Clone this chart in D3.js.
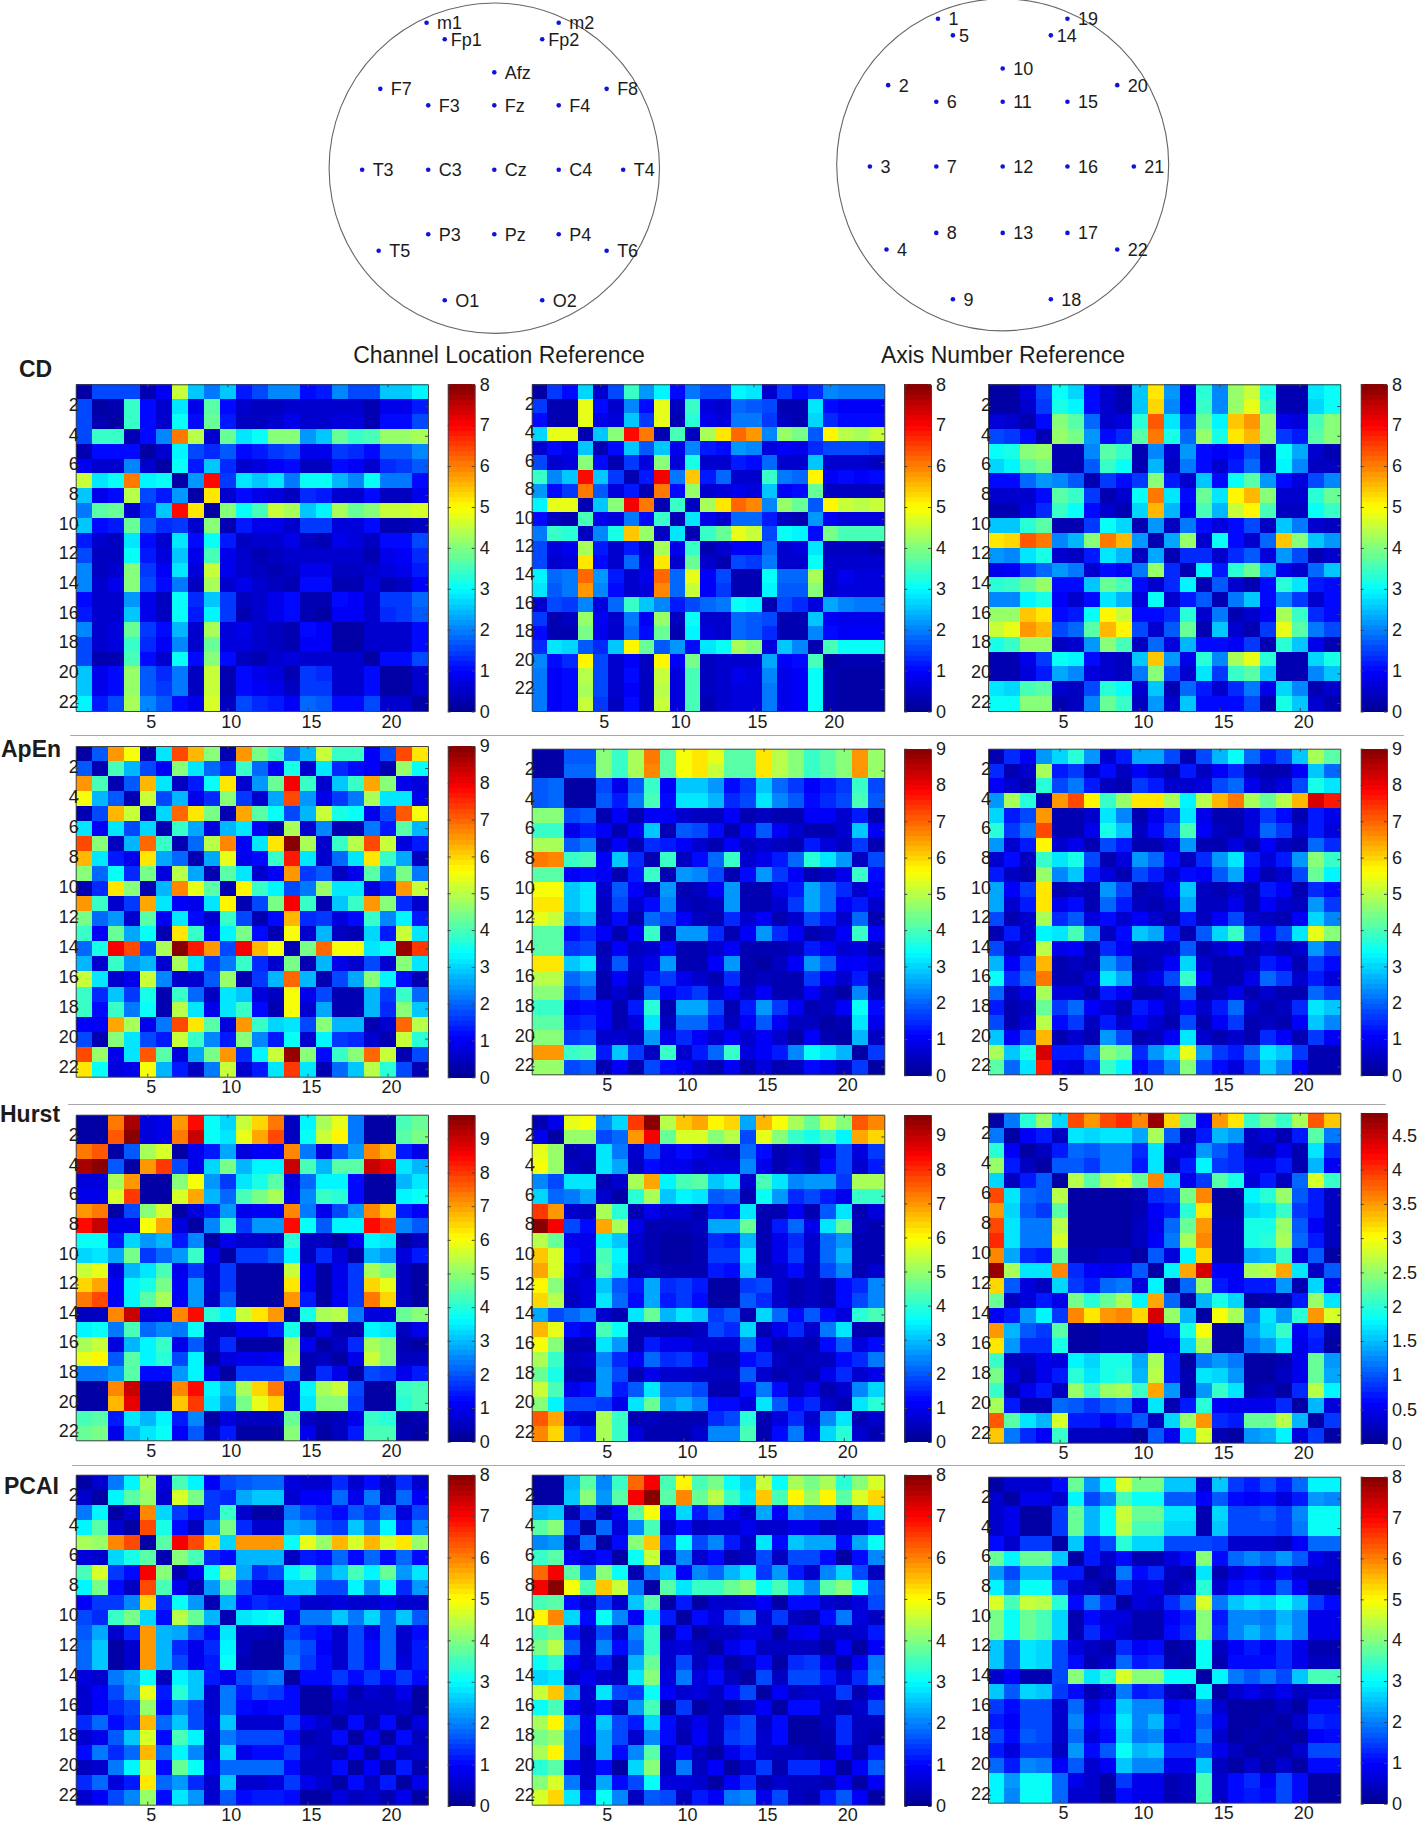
<!DOCTYPE html>
<html><head><meta charset="utf-8">
<script src="https://cdn.jsdelivr.net/npm/d3@7"></script>
<style>html,body{margin:0;padding:0;background:#fff}svg{display:block}text{font-family:"Liberation Sans",Arial,sans-serif;fill:#1c1c1c}</style>
</head><body><div id="chart"></div>
<script>
// Upper triangles of the symmetric matrices: row i lists columns i..n
const cd1=[[.2,1.5,1.5,1.5,.3,.9,4.5,2.5,1.9,2.5,1.2,1.5,2,2,1,1.2,2,1.6,1.5,2.5,2.5,2.9],
[.2,.3,3.4,1.1,.6,2.8,.8,3.7,1,.5,.4,.4,.6,.6,.6,.6,.6,.3,.8,.8,1.2],
[.2,3.4,1,.6,3,1,3.8,1.2,.4,.4,.5,.8,.5,.5,.7,.7,.3,1,1,1.6],
[.3,1,2,6.1,4.4,.5,3.8,2.8,3,4,4,2.2,2.6,3.8,3.4,3.6,4.2,4.2,4.3],
[.2,.5,2.9,1.6,1.3,1.7,1,1.2,1.4,1.6,.8,.8,1.4,1.3,1,1.7,1.7,2],
[.2,3,1.2,2.6,1.3,.5,.7,.9,1,.4,.4,1,.9,.6,1.3,1.4,1.7],
[.2,2.2,6.9,1.4,2.8,2.6,2.8,1.9,3,3,2.4,2.1,3,1.9,1.9,1],
[.2,5.2,.5,1,.8,.7,.4,1.3,1.2,.5,.5,1,.4,.4,.8],
[.2,4.1,3,3.5,4.5,4.3,2.6,2.9,4.3,3.8,4.1,4.6,4.6,4.7],
[.3,1.2,.8,.8,.5,1.4,1.4,.7,.7,1.1,.3,.3,.4],
[.4,.5,.5,.8,.4,.3,.8,.7,.4,1,1,1.6],
[.3,.4,.6,.6,.6,.6,.6,.3,.8,.9,1.3],
[.3,.4,.8,.8,.4,.4,.5,.7,.8,1.2],
[.3,1.1,1,.3,.3,.7,.3,.4,.9],
[.3,.3,1,.9,.6,1.4,1.4,1.8],
[.2,.9,.9,.5,1.3,1.4,1.7],
[.2,.2,.6,.6,.6,1],
[.2,.6,.6,.6,1],
[.2,1,1,1.5],
[.2,.2,.6],
[.2,.6],
[.2]];
const cd2=[[.2,1.4,1.1,2.7,.5,1.5,3.4,2.2,2.9,1,1.9,1.6,1.5,2.9,2.8,.6,1.4,1,1.3,2,1.9,1.9,1.9],
[.3,.3,4.8,1,.5,2.1,1,4.8,.4,3.4,.7,.6,1.8,1.7,1.6,.3,.3,2.8,1.1,.9,.9,.9],
[.3,4.8,.8,.7,2.5,1.4,4.8,.3,3.3,.8,.7,1.9,1.9,1.4,.4,.3,2.7,1.3,1,1,1],
[.3,2.5,4,6.9,6,.3,3.5,.4,4.3,5.2,6.2,5.8,2,4.2,3.9,1.7,5,4.4,4.3,4.6],
[.3,1,2.6,1.7,2.5,.8,2,1.2,1,2.2,2.1,.7,.9,.8,1.3,1.6,1.6,1.5,1.4],
[.3,1.4,.7,4,.7,3.2,.5,.5,1.2,1,1.8,.6,.6,2.6,.6,.5,.5,.4],
[.3,1.2,7,1.9,5.4,1.2,1.8,.5,.5,3.4,1.9,1.8,5,.9,1,.9,1],
[.3,6,1,4.2,.5,.7,.8,.7,2.6,.9,1.1,3.8,.4,.4,.4,.4],
[.3,3.4,.4,4.3,5.2,6.2,5.9,2,4.2,3.8,1.7,5,4.5,4.4,4.6],
[.3,2.8,.8,.6,1.8,1.8,1.2,.4,.3,2.2,.9,.7,.7,.7],
[.3,3.4,3.8,4.8,4.5,1.5,3.1,2.9,1,3.9,3.6,3.6,3.6],
[.3,.5,.9,.9,1.8,.6,.7,2.8,.4,.4,.4,.3],
[.3,1.5,1.4,1.9,.6,.6,3,.6,.5,.5,.5],
[.3,.3,3,1.8,1.8,4.3,.6,.8,.7,.7],
[.3,2.9,1.7,1.7,4,.6,.7,.7,.7],
[.3,1.6,1.3,.7,2.3,2,1.9,1.9],
[.3,.3,2.5,.9,.8,.8,.8],
[.3,2.1,1.1,.9,.9,.9],
[.3,3.5,3,3,3],
[.2,.3,.3,.3],
[.2,.2,.2],
[.2,.2],
[.2]];
const cd3=[[.2,.2,.7,1.5,3,2.7,1,.5,.3,2.5,5.2,2.2,.8,3.3,2,4.2,4.6,3.2,.3,.3,2.8,3],
[.2,.6,1.4,3.2,2.9,1,.6,.3,2.6,5.3,2.1,.9,3.4,2.1,4.2,4.8,3.4,.3,.3,2.7,3.1],
[.3,1,4.1,3.7,1.8,.5,.7,3.3,6.3,2.8,1.4,3.8,2.9,5.4,5.8,4.2,.8,.7,3.6,4.1],
[.3,4.2,3.9,2.2,1,1.3,3.7,6,3.2,1.8,4.2,3.2,5.2,5.5,4.2,1.4,1.2,3.7,4.1],
[.3,.3,2,3.7,3.4,.3,2.1,.5,2.2,1.1,.9,1,1.6,.4,3.1,2.3,.6,.3],
[.3,1.7,3.4,3,.3,2.4,.4,1.9,1.1,.5,1.2,1.8,.5,2.9,2,.4,.4],
[.3,1.4,1.1,1.4,4,1.2,.5,2.5,1,3,3.7,2.2,1,.7,1.6,2],
[.3,.6,3,6,2.8,1.1,3.8,2.8,5,5.5,4,.6,.6,3.3,3.8],
[.3,2.7,5.5,2.4,.9,3.5,2.4,4.6,5,3.6,.4,.4,3,3.4],
[.3,2.2,.4,1.9,1.1,.7,1,1.5,.4,2.6,1.9,.5,.4],
[.3,2.3,4.2,.5,3,1,.5,1.8,5.4,4,2.6,2.2],
[.3,1.3,1.3,.5,1.3,1.7,.7,2.2,1.5,.3,.5],
[.3,2.9,1.2,3.3,3.8,2.4,.8,.5,1.8,2.5],
[.3,1.7,.5,.3,1,3.3,2.8,1.2,1],
[.3,1.9,2.5,1,2.1,1.4,.6,1],
[.3,.5,.9,4.3,3.4,1.3,1],
[.3,1.4,4.8,3.7,1.9,1.5],
[.3,3.3,2.5,.8,.3],
[.3,.3,2.7,3.2],
[.3,2,2.5],
[.3,.6],
[.3]];
const apen1=[[.2,1.9,6.5,5.5,.3,3.2,7.3,6.2,4.6,.3,6.6,4.4,3.8,2,2.7,5.2,3.8,3.8,1,1.7,7.2,5.8],
[.3,4,2.8,1.8,1.1,4.6,3.2,2,1.5,3.8,2,1.1,3.6,.6,3.2,1.5,1.2,1,.4,4.7,3.4],
[.3,1.9,6.3,3.2,.5,1.3,3.4,5.8,.7,2.4,4.3,7.9,3.9,.6,2.9,3.9,6.4,4.6,.9,.8],
[.3,5.2,1.8,2.8,.9,1.5,4.6,1.6,.7,2.6,7.3,2.5,.9,1.6,2.2,4.9,3.1,3.1,.9],
[.3,3,7,5.9,4.4,.4,6.4,4.2,3.4,1.7,2.7,5.1,3.6,3.4,.9,1.7,7.1,5.5],
[.3,3.9,2.6,.8,2.7,3.1,1,.3,4.8,.6,2.3,.4,.3,2.2,1.3,4.2,2.7],
[.3,2,5,6.7,1,3.2,5.8,8.9,4.8,.7,3.9,5,7.2,5.1,.8,1.3],
[.3,2.6,5.4,.9,1.2,3.8,7.6,3.2,.6,2.1,3.2,5.8,3.9,2.6,.5],
[.3,4.2,3.2,.6,1.1,6.5,1.6,1.9,.5,.9,4.1,2.3,4.4,2.2],
[.3,5.7,3.9,3.3,1.8,2.2,4.7,3.2,3.2,.8,1.3,6.5,5.1],
[.3,1.7,4.4,7.9,3.9,.4,2.9,3.9,6.5,4.6,1.5,.6],
[.3,1.2,6.2,1.5,1.6,.8,1.2,3.8,2.3,3.3,1.4],
[.3,5.6,.6,2.7,.5,.3,3,1.3,5.2,3.2],
[.3,4.4,7,5.6,5.6,3.1,3.4,8.8,7.4],
[.3,2.8,.9,.7,1.8,.7,4.6,3.1],
[.3,1.8,2.6,4.6,3.3,1.2,.4],
[.3,.3,2.8,1.6,3.9,2.1],
[.3,2.8,1.5,4.6,2.9],
[.3,.7,7,5],
[.3,5.1,3.7],
[.3,1.7],
[.3]];
const apen2=[[.2,.2,1.9,1.9,4.6,3.8,4.9,6.8,4.1,5.5,5.8,5.4,4.2,4.1,5.8,5,4.6,3.9,4.2,4.6,6.5,4.7],
[.2,2,2,4.6,3.8,4.9,6.7,4.1,5.5,5.8,5.2,4.2,4.1,5.8,5,4.6,3.9,4.2,4.6,6.5,4.7],
[.2,.2,1.7,.9,1.9,3.8,1,2.9,2.9,2.5,1.2,1.6,2.9,2,1.6,1,1.3,1.6,3.8,1.7],
[.2,1.9,1.3,2.2,4,1.2,3.1,3.1,2.8,1.5,1.8,3.2,2.3,1.9,1.2,1.5,1.8,4,1.9],
[.3,1,.4,1.1,1.1,.6,.5,.5,1,.4,.5,.3,.4,1,1,.6,1.3,.4],
[.3,1,2.9,.3,1.9,1.7,1.2,.4,1.1,1.9,1.1,.6,.4,.4,.6,2.9,1],
[.3,1.5,1.3,1,.6,.3,1.1,.5,.7,.5,.4,1.3,.8,.5,1.6,.3],
[.3,3.8,.5,1.2,2,3.8,.6,.9,1.4,2,3.7,3.2,2.5,.5,1.7],
[.3,2.5,2.3,1.7,.3,1.2,2.4,1.6,1,.3,.5,.9,3.8,1.2],
[.3,.5,1,2.5,.4,.4,.9,1.4,2.6,2.1,1.5,.6,1],
[.3,.5,2.5,.4,.3,.7,1.6,2.6,2,1.1,1.3,.6],
[.3,1.5,.6,1,.4,.6,1.7,1.3,.7,2,.3],
[.3,1.1,2.4,1.5,1,.3,.5,1,3.8,1.1],
[.3,.3,.3,.5,1.3,1,.7,.8,.4],
[.2,.5,1,2.5,1.9,1.1,1,.8],
[.3,.4,1.6,1.1,.6,1.4,.3],
[.3,1,.5,.2,2.3,.5],
[.3,.5,1,3.4,1.2],
[.2,.4,3.2,.9],
[.2,2.7,.5],
[.2,1.6],
[.2]];
const apen3=[[.3,1.5,1,2.4,3,3.7,2.5,.7,1.3,2.6,2.6,1.7,.4,1.8,2.8,3.4,2,1.3,1.8,2.9,4.9,4.2],
[.3,.6,4.8,1.3,1.6,.7,1.2,.5,1.1,.6,.3,1.3,.5,1,1.5,.5,.4,.4,1,2.9,2.1],
[.3,3.7,1.8,2.2,1.3,.5,.4,1.6,1.3,.7,.7,.8,1.8,2.1,.9,.5,.8,1.8,3.6,3.1],
[.3,6.6,7.3,5.7,3.8,4.7,5.9,5.9,4.8,3.3,5,6.2,6.8,4.9,4.3,5,6.3,8.2,7.6],
[.3,.3,.6,3.1,2.3,.4,.9,1.5,3.2,.9,.4,.3,.8,1.6,1.2,.4,1.3,.9],
[.3,.9,3.6,2.9,.5,1.2,1.9,4,1.1,.5,.3,.8,2,1.6,.6,1.4,.8],
[.3,1.8,1.3,.4,.4,.8,2.5,.4,.4,.8,.4,1,.5,.4,2,1.5],
[.3,.8,2.4,2.1,1.2,.5,1.5,2.4,3.1,1.4,.8,1.3,2.4,4.6,3.8],
[.3,1.8,1.4,.6,1.2,1,1.9,2.6,1.1,.4,.7,1.8,4.3,3.3],
[.3,.5,1,2.9,.5,.3,.6,.4,1.3,1,.3,1.5,1.2],
[.3,.6,2.6,.5,.5,.9,.4,1,.6,.5,2.5,1.6],
[.3,1.4,.5,1,1.7,.6,.5,.4,1,3,2.3],
[.3,1.9,3,3.8,1.9,1.2,1.7,3.1,5.4,4.6],
[.3,.7,1,.4,.6,.4,.7,2.5,1.7],
[.3,.4,.5,1.4,1,.3,1.6,1.2],
[.3,.9,2,1.6,.6,1.3,.8],
[.3,.7,.4,.4,2,1.6],
[.3,.5,1.5,3.2,2.9],
[.3,1,2.9,2.3],
[.3,1.6,1.1],
[.3,.4],
[.3]];
const hurst1=[[.2,.2,7.4,9.4,.9,1,7,8.5,3.7,3.3,5.5,6.5,7.3,.5,3.5,5.3,5.9,2.3,.3,.3,4.4,4.6],
[.2,7.7,9.6,.8,1,7.3,9,3.7,3.4,5.8,6.9,7.8,.6,3.7,5.5,6.2,2.4,.3,.3,4.5,4.8],
[.3,2,5.2,5.7,.3,1,1.5,2.8,.8,1.1,1.1,7.2,2.3,.9,2,2.7,7.2,6.7,1.4,1],
[.3,7,7.9,1.9,1,3.2,4.8,2.9,3.6,3.6,9,4.4,3,4.5,4.5,9.1,8.7,3.4,3],
[.2,.2,5,6,2.6,1.8,3.4,3.9,4.5,.9,2.2,3.5,3.6,1.3,.3,.3,2.9,3.4],
[.2,5.7,6.9,2.9,2.2,4.3,4.8,5.2,1,2.5,4.2,4,1.3,.3,.3,3.5,3.7],
[.2,.9,1.4,2.7,1,1.1,1.1,7.2,2.4,1,1.9,2.6,7.2,6.6,1.4,1.1],
[.3,2.5,4.2,1.7,2.7,2.7,8.4,3.7,2,3.6,3.6,8.5,8,2.5,2],
[.3,1,.7,.7,.6,4,.5,.5,.2,1,3.6,3.4,.3,.6],
[.3,1.8,1.8,2,3.5,.5,1.6,.9,.3,3,2.7,.9,1.5],
[.2,.2,.2,5.5,1.1,.3,1,1.8,5.2,4.8,.5,.3],
[.2,.2,6.3,1.1,.3,1,1.8,6.4,5.9,.5,.3],
[.2,7.1,1.4,.3,1.1,1.8,7.4,6.5,.5,.3],
[.3,3.9,5.3,5.4,2.3,.9,.9,4.7,5],
[.2,1,.4,.4,3.6,3.4,.5,1],
[.3,.6,1.6,5.2,5,.4,.2],
[.2,1,5.6,5,.6,.5],
[.3,1.9,1.8,1,1.5],
[.2,.2,4.2,4.4],
[.2,4.1,4.3],
[.3,.4],
[.3]];
const hurst2=[[.3,.9,5.7,5.9,2.5,3.2,7.8,9.5,5.3,6.5,6.8,6,6.4,2.7,6.7,5.9,5.1,4.6,5.4,4.9,7.5,7.1],
[.2,5,5,1.8,2.2,7,8.4,4.6,5.6,5.6,4.8,5.3,1.9,5.7,4.8,4.1,3.8,4.3,3.5,6.8,6.4],
[.3,.5,3.4,2.3,.7,1.8,1,1.2,.9,.7,.5,2.1,1.2,.3,.5,.3,1,1.8,.8,1.7],
[.3,3.4,2.7,.5,1.3,.9,1,.7,.8,.8,2.5,1,.3,.6,.3,1.3,1.9,.6,1.4],
[.3,.6,5.2,6.8,3.5,4.3,4.4,3.1,3.3,.6,4.3,3.4,2.5,2.6,2.6,1.7,5.2,5.1],
[.2,4,5.2,3,3.5,3.3,2,2.2,.3,3.6,2.6,1.6,1.8,1.4,.9,4.1,4.1],
[.3,.9,.6,.6,.3,1.4,1.3,3.3,.4,.4,1.1,.4,2,3.4,.4,.8],
[.3,.3,.3,.5,2.7,2.7,4.6,.3,1.4,2.2,1,3.4,4.5,.5,.4],
[.2,.2,.4,1.6,1.4,2.9,.3,.9,1.5,.6,2.1,2.6,.3,.3],
[.2,.4,1.7,1.7,3.3,.3,.9,1.7,.6,2.2,2.9,.3,.3],
[.3,1.4,1.2,3,.5,.7,1.2,.5,1.8,2.5,.3,.7],
[.2,.2,1.7,1.8,.6,.3,.5,.4,1.3,1.6,2.4],
[.2,2,1.6,.6,.3,.5,.4,1.2,1.8,2.5],
[.3,3.2,2.2,1.2,2,1.3,.8,4,4.2],
[.3,1,1.6,.7,2.3,3.4,.3,.3],
[.3,.5,.3,1.2,2,.8,1.3],
[.3,.5,.5,1.2,1.6,2.3],
[.3,.9,1.5,.6,1],
[.3,.7,2.5,3.2],
[.3,3.4,4],
[.3,.7],
[.3]];
const hurst3=[[.1,1.2,2,2.5,1.6,3.9,3.5,3.9,4,3.6,4.7,3.2,2.3,.6,3.5,3.1,2.1,2.4,2.1,2.6,3.8,3.3],
[.1,.6,.7,.3,1.7,1.6,1.7,1.7,1.4,2.6,1,.3,.7,1.5,1.3,.3,.4,.2,.7,2.2,1.2],
[.1,.3,.7,1.1,1,1.2,1.2,.8,1.7,.4,.4,1.3,1,.8,.3,.2,.5,.2,1.7,.8],
[.1,1,1,.9,1.2,1.2,.7,1.7,.3,.7,1.8,.9,.8,.5,.5,.7,.2,1.5,.6],
[.1,2.7,2.2,2.7,2.8,2.3,3.6,1.6,.5,.9,2.2,1.9,.4,.7,.3,1.1,2.8,2.1],
[.1,.1,.1,.1,.2,.8,.9,2.4,3.6,.1,.1,1.8,2,2.5,1,.7,.3],
[.1,.1,.1,.2,.6,.7,2,3.1,.1,.1,1.6,1.7,2.1,.9,.7,.3],
[.1,.1,.3,.5,1.1,2.3,3.5,.2,.2,1.9,1.9,2.5,1,.6,.3],
[.1,.3,.6,1.2,2.6,3.6,.2,.2,1.9,2,2.6,1.1,.7,.3],
[.1,1,.4,1.8,3.2,.2,.2,1.4,1.5,2.1,.4,1,.1],
[.1,1.8,3.4,4.4,.6,.6,2.6,2.7,3.4,1.7,.3,1],
[.1,1.1,2.5,.7,.6,.7,.7,1.3,.2,1.6,.5],
[.1,1.5,1.9,1.6,.1,.2,.2,.7,2.5,1.7],
[.1,3,2.6,1.2,1.7,1.3,2,3.5,2.8],
[.1,.1,1.3,1.6,2.1,.6,.8,.2],
[.1,1.2,1.3,1.7,.5,.7,.1],
[.1,.1,.2,.5,2.3,1.3],
[.1,.3,.5,2.3,1.4],
[.1,.8,2.7,1.8],
[.1,1.5,.4],
[.1,.9],
[.1]];
const pcai1=[[.2,.5,1.9,2.9,4.3,.7,3.5,2.9,.9,1.5,1.7,1.8,1.8,.7,.6,.6,1.3,.5,1.1,.4,1.3,.6],
[.2,2.9,3.7,4.2,.5,4.7,3.9,1.4,1.3,2.3,2.6,2.5,.5,.9,.9,1.8,.8,1.9,.6,1.8,.9],
[.2,.5,5.9,2.7,1.4,1,1.4,3.4,.5,.2,.2,1.9,1.6,1.3,1,1.7,1.3,1.9,.7,1.5],
[.2,6.4,3.2,1,.4,2,3.9,1.3,.5,.6,2.3,2.2,1.6,1.4,2.6,1.8,2.9,1.2,2],
[.2,3.7,7,6.4,5.3,2.7,5.8,5.8,5.8,3,4.8,4.2,5.5,4.7,5.6,4.7,5.2,4.2],
[.3,4,3.5,1.3,1,2.4,2.4,2.4,.4,1.2,1,1.8,1,1.8,1,1.8,1],
[.3,.8,3.1,4.4,2.3,1.3,1.5,2.9,3.3,2.1,2.5,3.6,2.9,3.8,2.2,2.8],
[.3,2.2,3.8,1.5,.8,.8,2.6,2.6,1.6,1.6,2.9,2.1,3,1.3,2.2],
[.3,2.4,1,1.3,1.2,1.2,.6,.5,.7,.6,.5,.8,.6,.5],
[.3,2.8,2.9,3,.8,1.9,1.9,2.6,1.9,2.7,1.8,2.6,1.7],
[.4,.4,.3,1.6,1.2,1,.5,1.5,.8,1.8,.5,1],
[.2,.2,1.8,1.5,.9,.6,1.6,1,1.8,.6,1.2],
[.2,1.9,1.4,1,.6,1.6,1,1.8,.7,1.2],
[.2,1,1,1.4,1,1.4,1,1.4,1],
[.2,.2,.8,.3,.6,.4,.8,.2],
[.2,.5,.4,.4,.4,.5,.2],
[.2,1,.3,1.1,.2,.7],
[.2,.9,.2,1,.4],
[.2,.9,.4,.5],
[.2,1.2,.3],
[.2,.8],
[.2]];
const pcai2=[[.2,.2,2.4,3.7,2.1,3.4,6.2,7,3.5,5.1,3.5,3.9,3,2.7,4.6,3.1,4.3,3.9,4.3,3.3,4,4.7],
[.2,2.6,4.1,2.2,3.7,7,7.9,3.7,5.9,3.8,4.4,3.4,2.8,5.4,3.5,5,4.2,5,3.7,4.7,5.3],
[.3,1.4,.3,.9,3.7,4.9,1,2.7,1.2,1.8,.9,.6,2.3,.9,2.2,1.9,1.9,.8,1.9,2.8],
[.2,1.8,.7,2,3.5,.5,1.1,.4,.5,.6,.8,.6,.5,.8,.8,.4,.6,.5,1.2],
[.2,1.1,4,5.4,1.4,3,1.6,2,1.2,.5,2.8,1.1,2.6,2.3,2.3,1.1,2.3,3],
[.2,3,4.5,.5,2,.6,1,.3,.4,1.5,.4,1.5,1.5,1,.2,1,2],
[.3,1.9,2.6,.9,2,1.8,2.4,2.8,1.4,2.2,1.2,.6,2.1,2.7,1.6,.4],
[.2,3.7,2.8,3.4,3.4,3.8,4,3.1,3.6,2.7,2,3.7,4,3.1,1.7],
[.2,1.2,.2,.5,.5,.7,.9,.2,1,1,.6,.4,.7,1.6],
[.2,1,.7,1.6,1.9,.6,1.4,.4,.3,1,1.9,.7,.4],
[.2,.4,.4,.7,.7,.2,.8,.9,.4,.4,.5,1.2],
[.2,.8,1.1,.4,.4,.4,.4,.2,.9,.2,.9],
[.2,.4,1.1,.2,1.3,1.4,.8,.2,.9,1.9],
[.2,1.5,.4,1.6,1.6,1.2,.5,1.3,2.1],
[.2,.9,.4,.5,.5,1.4,.3,.8],
[.2,1,1,.4,.3,.5,1.5],
[.2,.2,.4,1.3,.4,.4],
[.2,.3,1.3,.4,.3],
[.2,.9,.3,1.2],
[.2,.9,1.7],
[.2,.9],
[.2]];
const pcai3=[[.2,.5,.5,.5,1,3.8,2.2,2.9,4.7,3.9,3.9,2.6,2.6,.5,2.6,1.4,1.2,1.5,1.2,1.8,2.9,2.9],
[.2,.8,.8,.5,2.9,1.5,2.1,3.6,3,3,1.7,1.7,.9,1.7,1,.9,1,.7,1.2,2.2,2.1],
[.2,.2,1.4,3.8,2.4,3,4.5,3.8,3.8,2.8,2.8,.3,2.7,1.6,1.5,1.7,1.4,2,3,3],
[.2,1.4,3.8,2.4,3,4.4,3.6,3.6,2.7,2.7,.3,2.6,1.6,1.5,1.6,1.4,1.9,3,3],
[.2,2.6,1.2,1.6,3.3,2.7,2.7,1.5,1.5,1.6,1.4,.6,.5,.6,.4,.9,1.8,1.8],
[.2,1.2,.6,1,.3,.3,.7,1,4,1.1,1.8,2,1.8,2.2,1.7,.8,.5],
[.2,.4,1.9,1.1,1.3,.4,.3,2.8,.3,.7,.9,.7,1,.5,.5,.5],
[.2,1.3,.7,.8,.3,.5,3.3,.5,1.1,1.2,1,1.7,.9,.2,.2],
[.2,.7,.5,1.3,1.8,4.7,1.9,2.6,2.8,2.7,3,2.6,1.4,1.1],
[.3,.3,.9,1.2,4,1.2,2.1,2.1,1.9,2.4,2.1,.8,.8],
[.3,1,1.3,4,1.3,2.1,2.4,2,2.5,2,.8,.8],
[.2,.3,3,.4,.9,1.2,.9,1.3,.8,.3,.3],
[.2,3,.3,1,1.1,1,1.3,.8,.4,.4],
[.2,2.9,1.9,1.7,1.9,1.5,2.5,3.6,3.6],
[.2,.5,.8,.5,.8,.4,.5,.5],
[.2,.2,.2,.4,.2,1,1],
[.2,.3,.2,.5,1.3,1.2],
[.2,.3,.2,.9,1],
[.2,.5,1.5,1.5],
[.2,1,1],
[.2,.2],
[.2]];

// Colorbar limits and tick labels
const limits8=8, limits9=9, limitsH1=9.72, limitsH2=9.6, limitsH3=4.83;
const ticks8=d3.range(0,9), ticks9=d3.range(0,10), ticksH3=d3.range(0,5,.5);
const xTicks=[5,10,15,20], yTicks=d3.range(2,23,2);

// Electrodes: name, x, y in head radii
const channels=[["m1",-.41,.89],["m2",.39,.89],["Fp1",-.30,.79],["Fp2",.29,.79],["Afz",0,.59],["F7",-.69,.49],["F8",.68,.49],["F3",-.40,.39],["Fz",0,.39],["F4",.39,.39],["T3",-.80,0],["C3",-.40,0],["Cz",0,0],["C4",.39,0],["T4",.78,0],["P3",-.40,-.39],["Pz",0,-.39],["P4",.39,-.39],["T5",-.70,-.49],["T6",.68,-.49],["O1",-.30,-.79],["O2",.29,-.79]];
const axisNumbers=[["1",-.39,.89],["5",-.30,.79],["2",-.69,.49],["6",-.40,.39],["3",-.80,0],["7",-.40,0],["4",-.70,-.50],["8",-.40,-.40],["9",-.30,-.80],["10",0,.59],["11",0,.39],["12",0,0],["13",0,-.40],["14",.29,.79],["19",.39,.89],["15",.39,.39],["16",.39,0],["17",.39,-.40],["18",.29,-.80],["20",.69,.49],["21",.79,0],["22",.69,-.50]];

const jetT=[0,.125,.375,.625,.875,1], jetC=["rgb(0,0,143)","rgb(0,0,255)","rgb(0,255,255)","rgb(255,255,0)","rgb(255,0,0)","rgb(128,0,0)"];
const jet=d3.scaleLinear().domain(jetT).range(jetC).interpolate(d3.interpolateRgb);
const level=t=>jet((Math.min(63,Math.floor(t*64))+.5)/64);

const svg=d3.select("#chart").append("svg").attr("width",1418).attr("height",1824).attr("viewBox","0 0 1418 1824");

function expand(tri){const n=tri.length;const m=d3.range(n).map(()=>new Array(n).fill(0));
  tri.forEach((r,i)=>{if(r.length!==n-i)console.warn("row",i,r.length,n-i);r.forEach((v,k)=>{m[i][i+k]=v;m[i+k][i]=v;});});return m;}

function panel(tri,x0,x1,cx0,cx1,y0,y1,cy0,cy1,vmax,cbTicks){
  const m=expand(tri), n=m.length, idx=d3.range(1,n+1);
  const x=d3.scaleBand().domain(idx).range([x0,x1]), y=d3.scaleBand().domain(idx).range([y0,y1]);
  const g=svg.append("g");
  g.selectAll("g.r").data(m).join("g").attr("class","r").attr("shape-rendering","crispEdges").selectAll("rect").data((r,i)=>r.map((v,j)=>({v,i:i+1,j:j+1}))).join("rect")
    .attr("x",d=>x(d.j)).attr("y",d=>y(d.i)).attr("width",x.bandwidth()+.4).attr("height",y.bandwidth()+.4)
    .attr("fill",d=>level(d.v/vmax));
  const style=a=>{a.selectAll("path,line").attr("stroke","#444").attr("stroke-width",1);a.selectAll("text").attr("font-size",18).attr("fill","#1c1c1c").attr("font-family",null);};
  g.append("g").attr("transform",`translate(0,${y1})`).call(d3.axisBottom(x).tickValues(xTicks).tickSizeInner(-3).tickSizeOuter(0).tickPadding(0)).call(style)
    .call(a=>a.selectAll("text").attr("dy",0).attr("y",16.8).attr("dx",3.5));
  g.append("g").attr("transform",`translate(0,${y0})`).call(d3.axisTop(x).tickValues(xTicks).tickSizeInner(-3).tickSizeOuter(0).tickFormat("")).call(style);
  g.append("g").attr("transform",`translate(${x0},0)`).call(d3.axisLeft(y).tickValues(yTicks).tickSizeInner(-3).tickSizeOuter(0).tickPadding(-3)).call(style)
    .call(a=>a.selectAll("text").attr("dy","0.32em").attr("y",-1.5));
  g.append("g").attr("transform",`translate(${x1},0)`).call(d3.axisRight(y).tickValues(yTicks).tickSizeInner(-3).tickSizeOuter(0).tickFormat("")).call(style);
  // colorbar
  const c=d3.scaleLinear().domain([0,vmax]).range([cy1,cy0]);
  const cb=svg.append("g");
  cb.selectAll("rect").data(d3.range(64)).join("rect").attr("x",cx0).attr("width",cx1-cx0).attr("shape-rendering","crispEdges")
    .attr("y",k=>c((k+1)/64*vmax)).attr("height",(cy1-cy0)/64+.4).attr("fill",k=>jet((k+.5)/64));
  cb.append("g").attr("transform",`translate(${cx1},0)`).call(d3.axisRight(c).tickValues(cbTicks).tickSizeInner(-3).tickSizeOuter(0).tickPadding(5).tickFormat(d=>d)).call(style);
  cb.append("g").attr("transform",`translate(${cx0},0)`).call(d3.axisLeft(c).tickValues(cbTicks).tickSizeInner(-3).tickSizeOuter(0).tickFormat("")).call(style);
}

const X=[[75.7,428,447.7,474.7],[531.7,884.3,904.3,931],[988,1340.3,1360.7,1387]];
function row(col,tri,y0,y1,cy0,cy1,vmax,t){const a=X[col];panel(tri,a[0],a[1],a[2],a[3],y0,y1,cy0,cy1,vmax,t);}
row(0,cd1,384.3,711,384.3,711.5,limits8,ticks8);
row(1,cd2,384.3,711,384.3,711.5,limits8,ticks8);
row(2,cd3,384.3,711,384.3,711.5,limits8,ticks8);
row(0,apen1,746,1076.7,746,1077.3,limits9,ticks9);
row(1,apen2,748.7,1074.3,748.7,1075.3,limits9,ticks9);
row(2,apen3,748.7,1074.3,748.7,1075.3,limits9,ticks9);
row(0,hurst1,1114.7,1440.3,1114.7,1441.7,limitsH1,ticks9);
row(1,hurst2,1114.7,1441,1114.7,1442,limitsH2,ticks9);
row(2,hurst3,1112.7,1442.7,1112.7,1443.7,limitsH3,ticksH3);
row(0,pcai1,1474.7,1804.7,1474.7,1806,limits8,ticks8);
row(1,pcai2,1474.7,1804.7,1474.7,1806,limits8,ticks8);
row(2,pcai3,1476.7,1802.7,1476.7,1803.7,limits8,ticks8);

// separators
[[70,1404,735.5],[68,1386,1104.5],[72,1405,1465.5]].forEach(s=>svg.append("line").attr("x1",s[0]).attr("x2",s[1]).attr("y1",s[2]).attr("y2",s[2]).attr("stroke","#aaa").attr("stroke-width",1.2));

// row titles
[["CD",19,377],["ApEn",1,756.5],["Hurst",0,1121.5],["PCAI",4,1494]].forEach(t=>svg.append("text").text(t[0]).attr("x",t[1]).attr("y",t[2]).attr("font-size",23).attr("font-weight","bold").attr("fill","#111"));

// heads
function head(list,cx,cy,r,title,tx){
  const hx=d3.scaleLinear().domain([-1,1]).range([cx-r,cx+r]), hy=d3.scaleLinear().domain([-1,1]).range([cy+r,cy-r]);
  svg.append("circle").attr("cx",hx(0)).attr("cy",hy(.01)).attr("r",r).attr("fill","none").attr("stroke","#666").attr("stroke-width",1.1);
  svg.selectAll(null).data(list).join("circle").attr("cx",d=>hx(d[1])).attr("cy",d=>hy(d[2])).attr("r",2.3).attr("fill","#1212d8");
  svg.selectAll(null).data(list).join("text").text(d=>d[0]).attr("x",d=>hx(d[1])+(/^(Fp|14$|5$)/.test(d[0])?6:10.5)).attr("y",d=>hy(d[2])+6.5).attr("font-size",18);
  svg.append("text").text(title).attr("x",tx).attr("y",362.5).attr("text-anchor","middle").attr("font-size",23);
}
head(channels,494.3,169.8,165.2,"Channel Location Reference",499);
head(axisNumbers,1002.7,166.5,166,"Axis Number Reference",1003);
</script></body></html>
